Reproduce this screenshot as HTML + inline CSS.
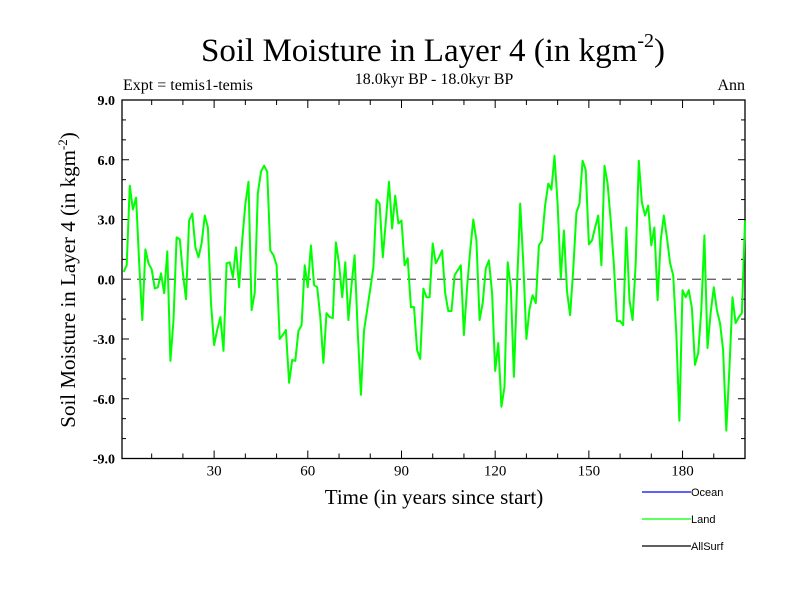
<!DOCTYPE html>
<html><head><meta charset="utf-8"><style>
body{margin:0;background:#fff;}
svg{display:block;}
.serif{font-family:"Liberation Serif",serif;}
.sans{font-family:"Liberation Sans",sans-serif;}
</style></head><body>
<svg id="chart" width="800" height="600" viewBox="0 0 800 600">
<rect width="800" height="600" fill="#fff"/>
<text x="433" y="61" text-anchor="middle" class="serif" font-size="33">Soil Moisture in Layer 4 (in kgm<tspan dy="-14" font-size="20">-2</tspan><tspan dy="14">)</tspan></text>
<text x="434" y="84" text-anchor="middle" class="serif" font-size="16">18.0kyr BP - 18.0kyr BP</text>
<text x="123" y="90" class="serif" font-size="16">Expt = temis1-temis</text>
<text x="745" y="90" text-anchor="end" class="serif" font-size="16">Ann</text>
<g id="axes"></g>
<g id="series"></g>
<text x="434" y="504" text-anchor="middle" class="serif" font-size="21">Time (in years since start)</text>
<text transform="translate(75,280) rotate(-90)" text-anchor="middle" class="serif" font-size="21">Soil Moisture in Layer 4 (in kgm<tspan dy="-8" font-size="13">-2</tspan><tspan dy="8">)</tspan></text>
<g>
<line x1="642" y1="492" x2="691" y2="492" stroke="#0000ff" stroke-width="1.3"/>
<text x="691" y="496" class="sans" font-size="11">Ocean</text>
<line x1="642" y1="519" x2="691" y2="519" stroke="#00ff00" stroke-width="1.3"/>
<text x="691" y="523" class="sans" font-size="11">Land</text>
<line x1="642" y1="546" x2="691" y2="546" stroke="#000" stroke-width="1.3"/>
<text x="691" y="550" class="sans" font-size="11">AllSurf</text>
</g>
</svg>
<script>
const years = Array.from({length:200},(_,i)=>i+1);
const landValues = [0.37,0.7,4.7,3.5,4.1,0.8,-2.05,1.5,0.8,0.5,
-0.47,-0.4,0.3,-0.7,1.4,-4.1,-2.05,2.1,2.0,0.3,
-1.0,2.95,3.3,1.6,1.1,1.8,3.2,2.6,-1.2,-3.3,
-2.55,-1.9,-3.6,0.8,0.85,0.1,1.6,-0.4,1.95,3.8,
4.9,-1.55,-0.7,4.3,5.4,5.7,5.4,1.45,1.2,0.7,
-3.0,-2.8,-2.55,-5.2,-4.05,-4.1,-2.6,-2.3,0.7,-0.4,
1.7,-0.3,-0.4,-1.9,-4.2,-1.7,-1.9,-1.95,1.85,0.8,
-0.9,0.85,-2.05,-0.3,1.2,-2.7,-5.8,-2.6,-1.55,-0.47,
0.6,4.0,3.8,1.1,2.95,4.9,2.55,4.2,2.8,2.95,
0.7,1.05,-1.4,-1.4,-3.55,-4.0,-0.47,-0.9,-0.9,1.8,
0.8,1.1,1.45,-0.7,-1.6,-1.6,0.2,0.45,0.7,-2.8,
-0.4,1.45,3.0,1.95,-2.05,-1.2,0.55,0.95,-0.7,-4.6,
-3.2,-6.4,-5.4,0.85,-0.4,-4.9,-0.4,3.8,0.8,-3.0,
-1.5,-0.8,-1.2,1.7,1.95,3.7,4.8,4.5,6.2,3.8,
0.05,2.45,-0.6,-1.8,0.45,3.35,3.8,5.95,5.5,1.75,
1.95,2.6,3.2,0.7,5.7,4.8,2.95,0.8,-2.1,-2.1,
-2.3,2.6,-1.05,-2.05,0.8,5.95,3.85,3.2,3.7,1.7,
2.6,-1.05,1.95,3.2,2.1,0.8,0.2,-2.7,-7.1,-0.55,
-0.9,-0.55,-1.45,-4.3,-3.7,-1.55,2.2,-3.45,-1.7,-0.4,
-1.55,-2.2,-3.55,-7.6,-4.5,-0.9,-2.2,-1.9,-1.7,2.95];
const yTickValues = [-9,-6,-3,0,3,6,9];
const yTickLabels = ["-9.0","-6.0","-3.0","0.0","3.0","6.0","9.0"];
const xTickValues = [30,60,90,120,150,180];
const xTickLabels = ["30","60","90","120","150","180"];

const L=122,R=745,T=100,B=458.5;
const X0=0.5,X1=200,Y0=-9,Y1=9;
function xs(v){return L+(v-X0)/(X1-X0)*(R-L);}
function ys(v){return B-(v-Y0)/(Y1-Y0)*(B-T);}
const NS="http://www.w3.org/2000/svg";
function mk(tag,attrs,parent){const e=document.createElementNS(NS,tag);for(const k in attrs)e.setAttribute(k,attrs[k]);parent.appendChild(e);return e;}
const ax=document.getElementById('axes');
const frame=mk('rect',{x:L,y:T,width:R-L,height:B-T,fill:'none',stroke:'#000','stroke-width':1.3},ax);


for(let v=Y0;v<=Y1;v+=1){
  const y=ys(v),len=(v%3===0)?7:4;
  const t1=mk('line',{x1:L,y1:y,x2:L+len,y2:y,stroke:'#000','stroke-width':1},ax);
  
  
  const t2=mk('line',{x1:R,y1:y,x2:R-len,y2:y,stroke:'#000','stroke-width':1},ax);
  
  
}
yTickValues.forEach((v,i)=>{
  const t=mk('text',{x:L-7,y:ys(v)+5,'text-anchor':'end','font-size':14,'font-weight':'bold','font-family':'Liberation Serif, serif'},ax);
  t.textContent=yTickLabels[i];
  
  
});
for(let v=10;v<200;v+=10){
  const x=xs(v),len=(v%30===0)?8:5;
  const t1=mk('line',{x1:x,y1:B,x2:x,y2:B-len,stroke:'#000','stroke-width':1},ax);
  
  
  const t2=mk('line',{x1:x,y1:T,x2:x,y2:T+len,stroke:'#000','stroke-width':1},ax);
  
  
}
xTickValues.forEach((v,i)=>{
  const t=mk('text',{x:xs(v),y:B+17,'text-anchor':'middle','font-size':15,'font-family':'Liberation Serif, serif'},ax);
  t.textContent=xTickLabels[i];
  
  
});
const zero=mk('line',{x1:L,y1:ys(0),x2:R,y2:ys(0),stroke:'#555','stroke-width':1.3,'stroke-dasharray':'9,6'},ax);


const sg=document.getElementById('series');
const pts=years.map((yr,i)=>xs(yr).toFixed(1)+','+ys(landValues[i]).toFixed(1)).join(' ');
const pl=mk('polyline',{points:pts,fill:'none',stroke:'#00ff00','stroke-width':2,'stroke-linejoin':'round'},sg);


</script>
</body></html>
